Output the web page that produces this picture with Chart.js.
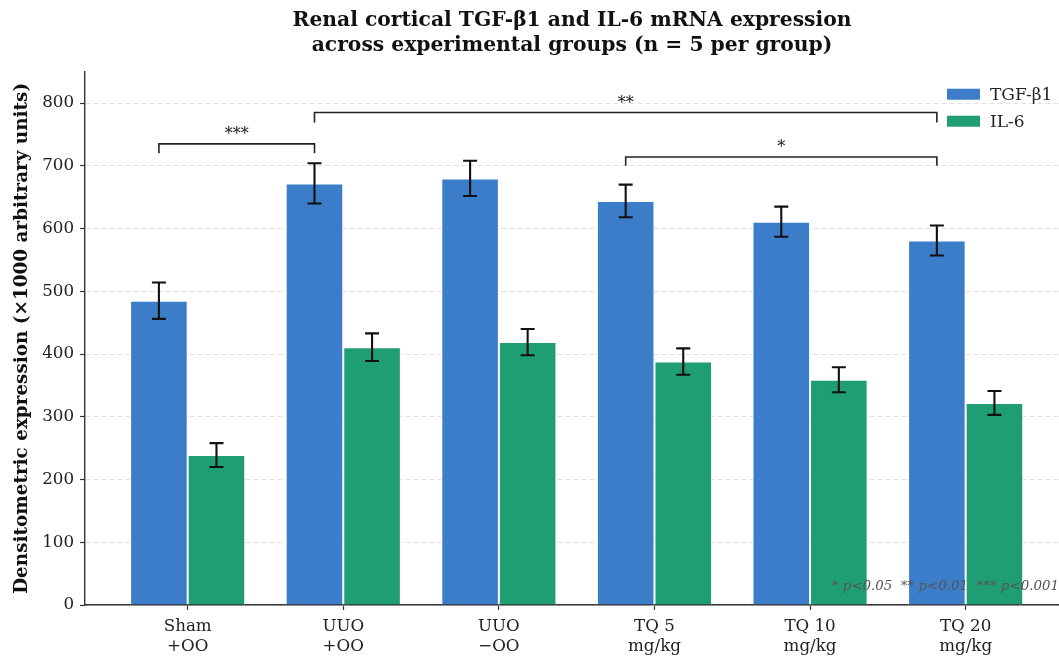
<!DOCTYPE html>
<html>
<head>
<meta charset="utf-8">
<script src="https://cdn.jsdelivr.net/npm/chart.js@4.4.1/dist/chart.umd.min.js"></script>
<style>
  html, body { margin: 0; padding: 0; background: #fff; }
  #wrap { width: 1059px; height: 657px; }
</style>
</head>
<body>
<div id="wrap"><canvas id="c" width="1059" height="657"></canvas></div>
<script>
// groups on the x axis (two-line labels)
var groups = [
  ["Sham", "+OO"],
  ["UUO", "+OO"],
  ["UUO", "\u2212OO"],
  ["TQ 5", "mg/kg"],
  ["TQ 10", "mg/kg"],
  ["TQ 20", "mg/kg"]
];
var tgfMean = [485, 672, 680, 644, 611, 581];
var tgfErr  = [29, 32, 28, 26, 24, 24];
var il6Mean = [239, 411, 419, 388, 359, 322];
var il6Err  = [19, 22, 21, 21, 20, 19];
var yTicks  = [0, 100, 200, 300, 400, 500, 600, 700, 800];

// significance brackets: from/to group index, bracket level, leg end, label
var sigBrackets = [
  { from: 1, to: 5, level: 785, leg: 769, label: "**" },
  { from: 0, to: 1, level: 735, leg: 720, label: "***" },
  { from: 3, to: 5, level: 714, leg: 700, label: "*" }
];
var footnote = "* p<0.05  ** p<0.01  *** p<0.001";

var SERIF = "'DejaVu Serif', serif";
var BLUE = "#3b7dc8";
var GREEN = "#1f9e74";

function pts(arr) {
  return arr.map(function(v, i) { return { x: i, y: v }; });
}

var errorBars = {
  id: "errorBars",
  afterDatasetsDraw: function(chart) {
    var ctx = chart.ctx, y = chart.scales.y;
    var errs = [tgfErr, il6Err];
    var means = [tgfMean, il6Mean];
    ctx.save();
    ctx.strokeStyle = "#111";
    ctx.lineWidth = 2.1;
    chart.data.datasets.forEach(function(ds, di) {
      var meta = chart.getDatasetMeta(di);
      meta.data.forEach(function(el, i) {
        var top = y.getPixelForValue(means[di][i] + errs[di][i]);
        var bot = y.getPixelForValue(means[di][i] - errs[di][i]);
        ctx.beginPath();
        ctx.moveTo(el.x, top); ctx.lineTo(el.x, bot);
        ctx.moveTo(el.x - 7, top); ctx.lineTo(el.x + 7, top);
        ctx.moveTo(el.x - 7, bot); ctx.lineTo(el.x + 7, bot);
        ctx.stroke();
      });
    });
    ctx.restore();
  }
};

var annotations = {
  id: "annotations",
  afterDraw: function(chart) {
    var ctx = chart.ctx, y = chart.scales.y, area = chart.chartArea;
    var meta = chart.getDatasetMeta(0);
    ctx.save();
    // brackets
    ctx.strokeStyle = "#222";
    ctx.lineWidth = 1.6;
    ctx.fillStyle = "#111";
    ctx.font = "16px " + SERIF;
    ctx.textAlign = "center";
    ctx.textBaseline = "alphabetic";
    sigBrackets.forEach(function(b) {
      var x1 = meta.data[b.from].x, x2 = meta.data[b.to].x;
      var yl = y.getPixelForValue(b.level), yg = y.getPixelForValue(b.leg);
      ctx.beginPath();
      ctx.moveTo(x1, yg); ctx.lineTo(x1, yl); ctx.lineTo(x2, yl); ctx.lineTo(x2, yg);
      ctx.stroke();
      ctx.fillText(b.label, (x1 + x2) / 2, yl - 5);
    });
    // legend
    ctx.textAlign = "left";
    ctx.textBaseline = "middle";
    ctx.font = "17px " + SERIF;
    chart.data.datasets.forEach(function(ds, di) {
      var ly = area.top + 23 + di * 27;
      ctx.fillStyle = ds.backgroundColor;
      ctx.fillRect(area.right - 112, ly - 6, 33, 11);
      ctx.fillStyle = "#222";
      ctx.fillText(ds.label, area.right - 69, ly + 1);
    });
    // footnote
    ctx.font = "italic 13.4px " + SERIF;
    ctx.fillStyle = "#555";
    ctx.textAlign = "right";
    ctx.fillText(footnote, area.right, area.bottom - 18);
    ctx.restore();
  }
};

new Chart(document.getElementById("c").getContext("2d"), {
  type: "bar",
  data: {
    datasets: [
      { label: "TGF-\u03b21", data: pts(tgfMean), backgroundColor: BLUE, borderColor: "rgba(255,255,255,0.8)", borderWidth: 1 },
      { label: "IL-6", data: pts(il6Mean), backgroundColor: GREEN, borderColor: "rgba(255,255,255,0.8)", borderWidth: 1 }
    ]
  },
  options: {
    responsive: false,
    animation: false,
    layout: { padding: { left: 0, right: 0, top: 0, bottom: 0 } },
    datasets: { bar: { categoryPercentage: 0.74, barPercentage: 1.0 } },
    plugins: {
      legend: { display: false },
      tooltip: { enabled: false },
      title: {
        display: true,
        fullSize: false,
        text: ["Renal cortical TGF-\u03b21 and IL-6 mRNA expression", "across experimental groups (n = 5 per group)"],
        color: "#111",
        font: { family: SERIF, size: 20.3, weight: "bold", lineHeight: 1.2 },
        padding: { top: 9, bottom: 14 }
      }
    },
    scales: {
      x: {
        type: "linear",
        min: -0.66,
        max: 5.6,
        offset: false,
        afterBuildTicks: function(s) { s.ticks = groups.map(function(g, i) { return { value: i }; }); },
        afterFit: function(s) { s.height = 52; },
        grid: { drawOnChartArea: false, offset: false, tickLength: 5, tickColor: "#333", tickWidth: 1.2 },
        border: { color: "#333", width: 1.4 },
        ticks: {
          autoSkip: false,
          maxRotation: 0,
          padding: 7,
          color: "#222",
          font: { family: SERIF, size: 16.7, lineHeight: 1.2 },
          callback: function(v) { return groups[v]; }
        }
      },
      y: {
        min: 0,
        max: 850,
        afterBuildTicks: function(s) { s.ticks = yTicks.map(function(v) { return { value: v }; }); },
        afterFit: function(s) { s.width = 85; },
        grid: { color: "#e0e0e0", lineWidth: 1, tickLength: 5, tickColor: "#333", tickBorderDash: [], tickWidth: 1.2 },
        border: { color: "#333", width: 1.4, dash: [5, 3] },
        ticks: { padding: 6, color: "#222", font: { family: SERIF, size: 16.7 } },
        title: {
          display: true,
          text: "Densitometric expression (\u00d71000 arbitrary units)",
          color: "#111",
          font: { family: SERIF, size: 18.4, weight: "bold" },
          padding: { top: 11, bottom: 0 }
        }
      }
    }
  },
  plugins: [errorBars, annotations]
});
</script>
</body>
</html>
